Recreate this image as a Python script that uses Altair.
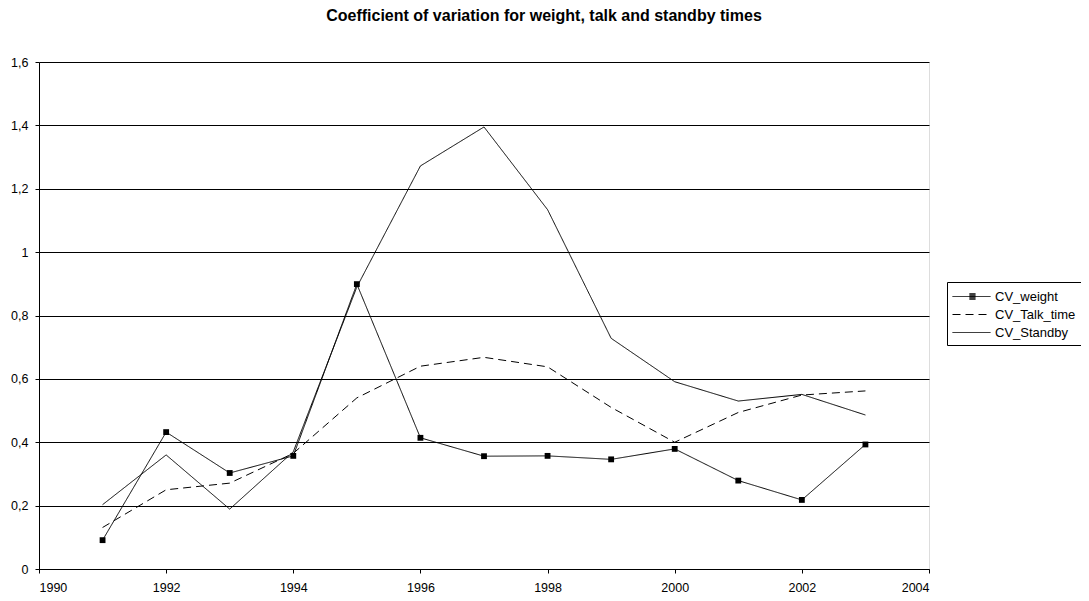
import altair as alt
import pandas as pd

years = list(range(1991, 2004))
cv_weight = [0.091, 0.432, 0.303, 0.357, 0.899, 0.414, 0.356, 0.357, 0.346, 0.379, 0.279, 0.218, 0.393]
cv_talk_time = [0.131, 0.250, 0.271, 0.365, 0.540, 0.640, 0.668, 0.638, 0.510, 0.400, 0.494, 0.549, 0.562]
cv_standby = [0.203, 0.360, 0.189, 0.370, 0.890, 1.272, 1.395, 1.134, 0.728, 0.591, 0.530, 0.551, 0.486]

series_names = ["CV_weight", "CV_Talk_time", "CV_Standby"]
x_ticks = [1990, 1992, 1994, 1996, 1998, 2000, 2002, 2004]
y_ticks = [0, 0.2, 0.4, 0.6, 0.8, 1.0, 1.2, 1.4, 1.6]

rows = []
for name, vals in zip(series_names, [cv_weight, cv_talk_time, cv_standby]):
    for yr, v in zip(years, vals):
        rows.append({"year": yr, "value": v, "series": name})
df = pd.DataFrame(rows)

FONT = "Liberation Sans"

x_enc = alt.X(
    "year:Q",
    scale=alt.Scale(domain=[1990, 2004], nice=False, zero=False),
    axis=alt.Axis(values=x_ticks, format="d", title=None, grid=False,
                  tickSize=4, labelPadding=8, domainColor="black", tickColor="black",
                  labelFont=FONT, labelFontSize=12.5, labelColor="black"),
)
y_enc = alt.Y(
    "value:Q",
    scale=alt.Scale(domain=[0, 1.6], nice=False),
    axis=alt.Axis(values=y_ticks, title=None, grid=True, gridColor="black",
                  gridWidth=1, tickSize=4, labelPadding=7,
                  domainColor="black", tickColor="black",
                  labelFont=FONT, labelFontSize=12.5, labelColor="black",
                  labelExpr="replace(format(datum.value, '~g'), '.', ',')"),
)

sq = "".join(
    "M0.89,%sH1.55" % v for v in ["-0.33", "-0.22", "-0.11", "0", "0.11", "0.22", "0.33"]
)
shape_expr = "datum.value === 'CV_weight' ? 'M-1,0H3.22" + sq + "' : 'M-1,0H3.22'"

legend = alt.Legend(
    title=None,
    orient="none",
    legendX=908,
    legendY=220,
    strokeColor="black",
    padding=5,
    fillColor="white",
    symbolSize=324,
    symbolStrokeWidth=1,
    symbolStrokeColor="black",
    symbolType=alt.ExprRef(expr=shape_expr),
    labelOffset=24,
    labelFontSize=13,
    labelFont=FONT,
    labelColor="black",
    rowPadding=1,
)

lines = alt.Chart(df).mark_line(color="black", strokeWidth=1).encode(
    x=x_enc,
    y=y_enc,
    strokeDash=alt.StrokeDash(
        "series:N",
        scale=alt.Scale(domain=series_names, range=[[1, 0], [8, 5], [1, 0]]),
        legend=legend,
        sort=series_names,
    ),
    detail="series:N",
)

points = alt.Chart(df).transform_filter(
    alt.datum.series == "CV_weight"
).mark_point(shape="square", filled=True, color="black", size=34, opacity=1).encode(
    x="year:Q", y="value:Q"
)

chart = alt.layer(lines, points).properties(
    width=890,
    height=507,
    padding={"left": 31, "top": 54, "right": 152, "bottom": 24},
    autosize=alt.AutoSizeParams(type="none"),
    title=alt.TitleParams(
        "Coefficient of variation for weight, talk and standby times",
        font=FONT, fontSize=16, fontWeight="bold", color="black",
        anchor="middle", offset=32, dx=60,
    ),
).configure_view(
    stroke="#808080", strokeWidth=1
).configure(background="white")

chart.save("out.html", embed_options={"renderer": "svg", "actions": False})
